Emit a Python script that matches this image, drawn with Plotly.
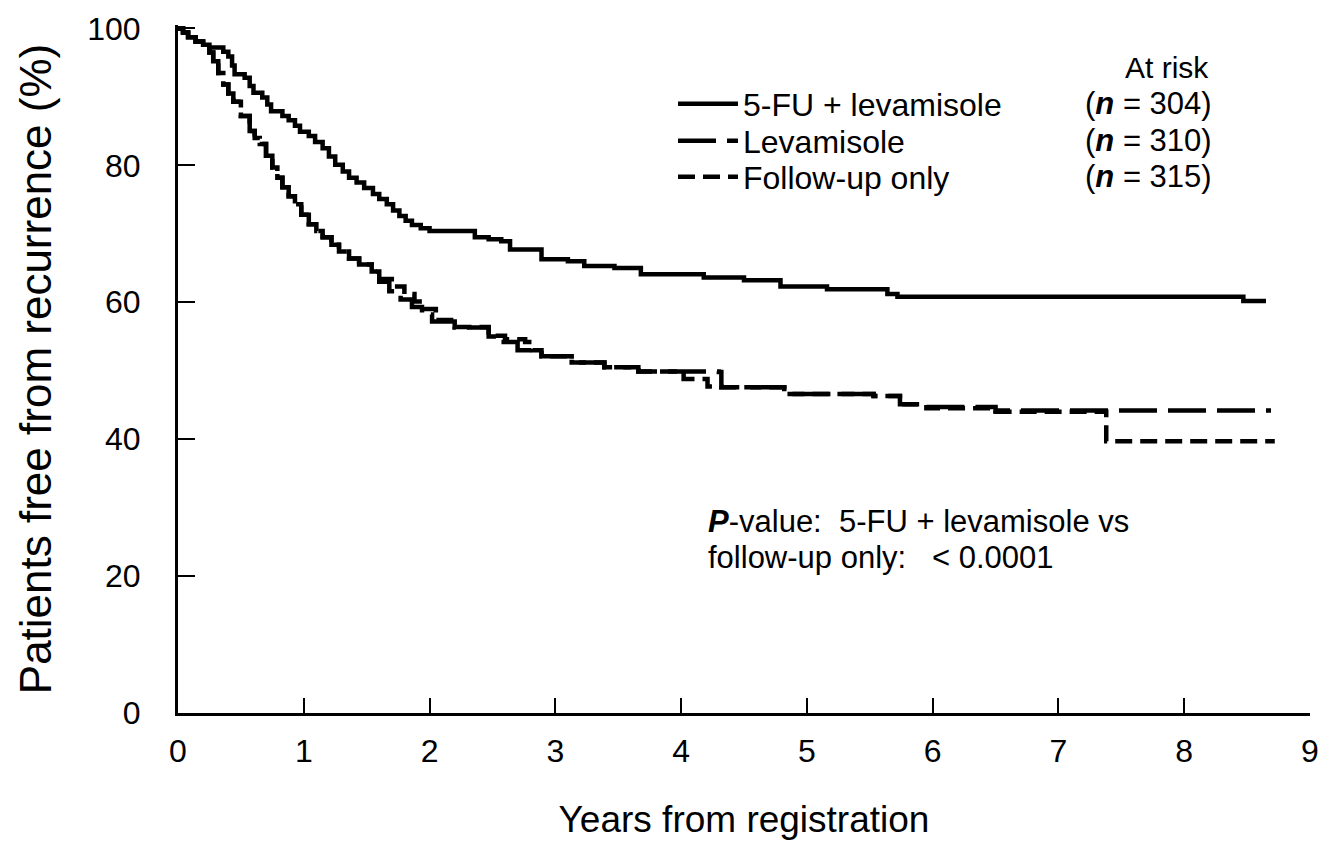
import plotly.graph_objects as go

# ---------------- data ----------------
years_5fu = [0, 0.04, 0.08, 0.14, 0.2, 0.25, 0.36, 0.40, 0.43, 0.45, 0.53, 0.57, 0.60, 0.67, 0.71,
             0.74, 0.83, 0.88, 0.93, 0.97, 1.04, 1.09, 1.15, 1.2, 1.25, 1.31, 1.36, 1.42, 1.48, 1.55,
             1.6, 1.66, 1.71, 1.76, 1.81, 1.86, 1.93, 2.0, 2.36, 2.47, 2.57, 2.64, 2.89, 3.1, 3.23,
             3.47, 3.68, 4.18, 4.5, 4.79, 5.16, 5.64, 5.72, 8.47, 8.65]
free_5fu = [100, 99.4, 98.7, 98.1, 97.6, 97.2, 96.6, 95.9, 94.6, 93.3, 92.8, 91.6, 90.6, 89.9, 88.9,
            87.9, 87.2, 86.6, 85.8, 84.9, 84.3, 83.4, 82.5, 81.3, 80.1, 79.1, 78.2, 77.5, 76.7, 75.8,
            75.1, 74.3, 73.4, 72.6, 71.9, 71.3, 70.8, 70.4, 69.5, 69.2, 68.9, 67.7, 66.3, 66.0, 65.3,
            65.0, 64.1, 63.6, 63.2, 62.3, 61.9, 61.2, 60.8, 60.2, 60.2]

years_lev = [0, 0.04, 0.08, 0.14, 0.2, 0.25, 0.28, 0.32, 0.36, 0.40, 0.44, 0.5, 0.57, 0.61, 0.65,
             0.7, 0.75, 0.79, 0.83, 0.88, 0.93, 0.98, 1.04, 1.1, 1.15, 1.22, 1.28, 1.36, 1.44, 1.54,
             1.6, 1.68, 1.77, 1.86, 1.94, 2.02, 2.2, 2.47, 2.57, 2.7, 2.89, 3.13, 3.39, 3.66, 4.3,
             4.32, 4.82, 5.53, 5.74, 5.95, 6.5, 8.69]
free_lev = [100, 99.4, 98.7, 98.1, 97.6, 96.5, 95.2, 93.5, 91.8, 90.5, 89.3, 87.2, 85.0, 84.0, 83.1,
            81.4, 79.7, 78.2, 76.8, 75.5, 74.3, 72.8, 71.4, 70.4, 69.5, 68.4, 67.4, 66.4, 65.5, 64.5,
            63.0, 61.6, 60.4, 59.3, 58.2, 57.2, 56.3, 55.0, 54.2, 53.0, 52.1, 51.2, 50.5, 49.9, 49.8,
            47.6, 46.6, 46.3, 45.1, 44.7, 44.2, 44.2]

years_fu = [0, 0.04, 0.08, 0.14, 0.2, 0.25, 0.28, 0.32, 0.36, 0.40, 0.44, 0.5, 0.57, 0.61, 0.65,
            0.7, 0.75, 0.79, 0.83, 0.88, 0.93, 0.98, 1.04, 1.1, 1.15, 1.22, 1.28, 1.36, 1.44, 1.54,
            1.6, 1.7, 1.8, 1.88, 1.96, 2.05, 2.2, 2.47, 2.6, 2.76, 2.82, 2.89, 3.13, 3.39, 3.66,
            4.02, 4.21, 4.32, 4.82, 5.53, 5.74, 5.95, 6.5, 7.38, 8.72]
free_fu = [100, 99.4, 98.7, 98.1, 97.6, 96.5, 95.2, 93.5, 91.8, 90.5, 89.3, 87.2, 85.0, 84.0, 83.1,
           81.4, 79.7, 78.2, 76.8, 75.5, 74.3, 72.8, 71.4, 70.4, 69.5, 68.4, 67.4, 66.4, 65.5, 64.5,
           63.4, 62.3, 61.2, 60.1, 59.0, 57.4, 56.4, 55.1, 54.6, 54.2, 53.0, 52.1, 51.2, 50.5, 49.9,
           48.8, 47.7, 47.6, 46.6, 46.3, 45.1, 44.5, 44.0, 39.7, 39.7]

series_names = ["5-FU + levamisole", "Levamisole", "Follow-up only"]
at_risk = [304, 310, 315]
x_ticks = [0, 1, 2, 3, 4, 5, 6, 7, 8, 9]
y_ticks = [0, 20, 40, 60, 80, 100]

# ---------------- layout geometry ----------------
# the page body adds an 8px margin; keep the figure inside the 1327x867 window
W, H = 1311, 851
ML, MR, MT, MB = 170, 9, 17, 146
OFF = 8
PW, PH = W - ML - MR, H - MT - MB


def px(sx):
    """window x pixel -> paper x"""
    return (sx - OFF - ML) / PW


def py(sy):
    """window y pixel -> paper y"""
    return (H - MB - (sy - OFF)) / PH


FONT = "Liberation Sans, Arial, Helvetica, sans-serif"
TXT = dict(family=FONT, color="black")
fig = go.Figure()

styles = ["solid", "38px,11px", "17px,8px"]
xs = [years_5fu, years_lev, years_fu]
ys = [free_5fu, free_lev, free_fu]
legend_ids = ["legend", "legend2", "legend3"]
for name, x, y, dash, lg in zip(series_names, xs, ys, styles, legend_ids):
    fig.add_trace(go.Scatter(x=x, y=y, name=name, mode="lines", legend=lg,
                             line=dict(color="black", width=4.5, shape="hv", dash=dash)))

row_y = [104, 141, 177]
legend_cfg = {}
for lg, ry in zip(legend_ids, row_y):
    legend_cfg[lg] = dict(x=px(673), y=py(ry), xanchor="left", yanchor="middle",
                          font=dict(size=32, **TXT), bgcolor="rgba(0,0,0,0)",
                          itemwidth=60, borderwidth=0)

# at-risk column
fig.add_annotation(x=px(1167), y=py(67), xref="paper", yref="paper", text="At risk",
                   xanchor="center", yanchor="middle",
                   showarrow=False, font=dict(size=30, **TXT))
for n, ry in zip(at_risk, row_y):
    fig.add_annotation(x=px(1083), y=py(ry), xref="paper", yref="paper",
                       xanchor="left", yanchor="middle",
                       text=f"(<b><i>n</i></b> = {n})", showarrow=False,
                       font=dict(size=31, **TXT))

# P-value note
fig.add_annotation(x=px(706), y=py(521), xref="paper", yref="paper",
                   xanchor="left", yanchor="middle",
                   text="<b><i>P</i></b>-value:  5-FU + levamisole vs",
                   showarrow=False, font=dict(size=31, **TXT))
fig.add_annotation(x=px(706), y=py(557), xref="paper", yref="paper",
                   xanchor="left", yanchor="middle",
                   text="follow-up only:   < 0.0001",
                   showarrow=False, font=dict(size=31, **TXT))

fig.update_layout(
    width=W, height=H,
    margin=dict(l=ML, r=MR, t=MT, b=MB, autoexpand=False),
    paper_bgcolor="white", plot_bgcolor="white",
    font=TXT,
    showlegend=True,
    **legend_cfg,
    xaxis=dict(range=[0, 9], tickvals=x_ticks, ticktext=[str(v) for v in x_ticks],
               automargin=False,
               showline=True, linecolor="black", linewidth=3, showgrid=False, zeroline=False,
               ticks="inside", ticklen=15, tickwidth=2, tickcolor="black",
               ticklabelstandoff=8,
               tickfont=dict(size=32, **TXT),
               title=dict(text="Years from registration", standoff=38,
                          font=dict(size=37, **TXT))),
    yaxis=dict(range=[0, 100.5], tickvals=y_ticks, ticktext=[str(v) for v in y_ticks],
               automargin=False,
               showline=True, linecolor="black", linewidth=3, showgrid=False, zeroline=False,
               ticks="inside", ticklen=17, tickwidth=2, tickcolor="black",
               ticklabelstandoff=28,
               tickfont=dict(size=32, **TXT),
               title=dict(text="Patients free from recurrence (%)", standoff=22,
                          font=dict(size=44, **TXT))),
)

fig.write_html("out.html")
